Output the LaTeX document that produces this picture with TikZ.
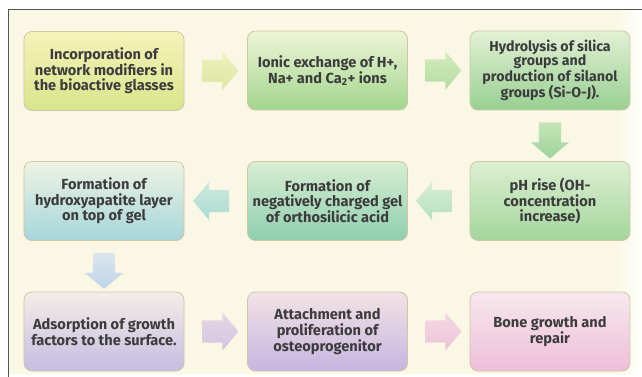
\documentclass[tikz,border=0pt]{standalone}
\usepackage{fontspec}
\setmainfont{Fira Sans}
\usetikzlibrary{shapes.arrows,calc}

\definecolor{cream}{HTML}{FAF8E4}
\definecolor{frame}{HTML}{555555}
\definecolor{boxline}{HTML}{CFC6A8}
\definecolor{ink}{HTML}{3C3C3C}

% gradient ends of the step boxes (top / bottom)
\definecolor{b1t}{HTML}{F6F2B8}\definecolor{b1b}{HTML}{D8E58C}
\definecolor{b2t}{HTML}{EEF5D8}\definecolor{b2b}{HTML}{A2D68C}
\definecolor{b3t}{HTML}{E2F1D4}\definecolor{b3b}{HTML}{98CF92}
\definecolor{b4t}{HTML}{EEF3E4}\definecolor{b4b}{HTML}{A6D6DA}
\definecolor{b5t}{HTML}{D8EED2}\definecolor{b5b}{HTML}{8ECFAE}
\definecolor{b6t}{HTML}{DCEFD2}\definecolor{b6b}{HTML}{A4D69C}
\definecolor{b7t}{HTML}{F5EDE6}\definecolor{b7b}{HTML}{C4BDE2}
\definecolor{b8t}{HTML}{F2E3E6}\definecolor{b8b}{HTML}{C6B5E0}
\definecolor{b9t}{HTML}{F7E8EC}\definecolor{b9b}{HTML}{EEBEDA}
% gradient ends of the block arrows
\definecolor{a1t}{HTML}{EEF1BE}\definecolor{a1b}{HTML}{DCE6A0}
\definecolor{a2t}{HTML}{D4EBC0}\definecolor{a2b}{HTML}{B4DCA0}
\definecolor{a3t}{HTML}{C6E6B8}\definecolor{a3b}{HTML}{9CD29A}
\definecolor{a4t}{HTML}{D8EED4}\definecolor{a4b}{HTML}{B6E0C0}
\definecolor{a5t}{HTML}{CCE9DC}\definecolor{a5b}{HTML}{ACDCD4}
\definecolor{a6t}{HTML}{DCE6EE}\definecolor{a6b}{HTML}{BED4EA}
\definecolor{a7t}{HTML}{E6D8E6}\definecolor{a7b}{HTML}{D2C4E0}
\definecolor{a8t}{HTML}{F4D8E2}\definecolor{a8b}{HTML}{EEC4DA}

\tikzset{
  stepbox/.style={rectangle, rounded corners=8pt, draw=boxline, line width=0.8pt,
    minimum width=160pt, minimum height=79pt, align=center,
    inner sep=0pt, text=ink, font=\bfseries\fontsize{14.6}{15.6}\selectfont},
  blockarrow/.style={single arrow, draw=none, inner sep=11pt,
    minimum height=36pt,
    single arrow head extend=8pt, single arrow tip angle=100},
  shade pair/.style={top color=#1t, bottom color=#1b}
}

\begin{document}
\begin{tikzpicture}[x=1pt,y=-1pt]
  % canvas and frame
  \useasboundingbox (0,0) rectangle (642,377);
  \fill[white] (0,0) rectangle (642,377);
  \fill[cream] (8.5,9.5) rectangle (618,374);
  \shade[left color=cream, right color=white] (617.5,9.5) rectangle (642,374);
  \draw[frame, line width=1.3pt] (642,9.5) -- (8.5,9.5) -- (8.5,377);

  % process boxes
  \node[stepbox, shade pair=b1] (b1) at (104,71)
    {Incorporation of\\network modifiers in\\the bioactive glasses};
  \node[stepbox, shade pair=b2] (b2) at (327.5,70.5)
    {Ionic exchange of H+,\\Na+ and Ca\textsubscript{2}+ ions};
  \node[stepbox, shade pair=b3, font=\bfseries\fontsize{14.2}{14.3}\selectfont] (b3) at (550,70.5)
    {Hydrolysis of silica\\groups and\\production of silanol\\groups (Si-O-J).};

  \node[stepbox, shade pair=b6] (b6) at (550,201)
    {pH rise (OH-\\concentration\\increase)};
  \node[stepbox, shade pair=b5] (b5) at (327.5,201)
    {Formation of\\negatively charged gel\\of orthosilicic acid};
  \node[stepbox, shade pair=b4] (b4) at (104,201)
    {Formation of\\hydroxyapatite layer\\on top of gel};

  \node[stepbox, shade pair=b7] (b7) at (104,331.5)
    {Adsorption of growth\\factors to the surface.};
  \node[stepbox, shade pair=b8] (b8) at (327.5,331.5)
    {Attachment and\\proliferation of\\osteoprogenitor};
  \node[stepbox, shade pair=b9] (b9) at (550,331.5)
    {Bone growth and\\repair};

  % block arrows between the steps
  \node[blockarrow, shade pair=a1] (a12) at ($(b1.east)!0.5!(b2.west)$) {};
  \node[blockarrow, shade pair=a2] (a23) at ($(b2.east)!0.5!(b3.west)$) {};
  \node[blockarrow, shape border rotate=270, shade pair=a3] (a36) at ($(b3.south)!0.5!(b6.north)$) {};
  \node[blockarrow, shape border rotate=180, shade pair=a4] (a65) at ($(b6.west)!0.5!(b5.east)$) {};
  \node[blockarrow, shape border rotate=180, shade pair=a5] (a54) at ($(b5.west)!0.5!(b4.east)$) {};
  \node[blockarrow, shape border rotate=270, shade pair=a6] (a47) at ($(b4.south)!0.5!(b7.north)$) {};
  \node[blockarrow, shade pair=a7] (a78) at ($(b7.east)!0.5!(b8.west)$) {};
  \node[blockarrow, shade pair=a8] (a89) at ($(b8.east)!0.5!(b9.west)$) {};
\end{tikzpicture}
\end{document}
